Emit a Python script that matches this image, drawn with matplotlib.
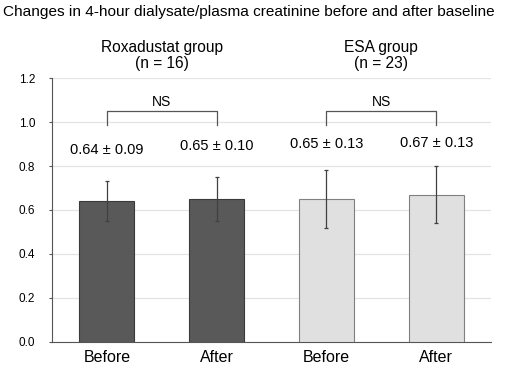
import matplotlib.pyplot as plt

plt.rcParams['font.family'] = ['Liberation Sans', 'DejaVu Sans']

labels = ['Before', 'After', 'Before', 'After']
means = [0.64, 0.65, 0.65, 0.67]
sds = [0.09, 0.10, 0.13, 0.13]
colors = ['#595959', '#595959', '#e0e0e0', '#e0e0e0']
edges = ['#3a3a3a', '#3a3a3a', '#808080', '#808080']
groups = ['Roxadustat group\n(n = 16)', 'ESA group\n(n = 23)']
yticks = [0.0, 0.2, 0.4, 0.6, 0.8, 1.0, 1.2]

fig = plt.figure(figsize=(5.1, 3.7), dpi=100)
ax = fig.add_axes([0.102, 0.076, 0.861, 0.713])

x = list(range(len(labels)))
ax.bar(x, means, width=0.5, color=colors, edgecolor=edges, linewidth=0.8, zorder=3)
ax.errorbar(x, means, yerr=sds, fmt='none', ecolor='#404040', elinewidth=0.9,
            capsize=1.5, capthick=0.9, zorder=4)

# mean +- SD labels
text_y = [0.873, 0.893, 0.9, 0.905]
for i in x:
    ax.text(i, text_y[i], '%.2f ± %.2f' % (means[i], sds[i]), ha='center', va='center',
            fontsize=10.5)

# NS brackets and group labels
for g in range(2):
    a, b = 2 * g, 2 * g + 1
    ax.plot([a, a, b, b], [0.985, 1.05, 1.05, 0.985], color='#555555', lw=0.9,
            clip_on=False, zorder=3)
    ax.text((a + b) / 2, 1.09, 'NS', ha='center', va='center', fontsize=10)
    ax.text((a + b) / 2, 1.302, groups[g], ha='center', va='center', fontsize=11.2,
            linespacing=1.1, clip_on=False)

ax.set_xlim(-0.5, 3.5)
ax.set_ylim(0, 1.2)
ax.set_yticks(yticks)
ax.set_yticklabels(['%.1f' % t for t in yticks], fontsize=8.5)
ax.set_xticks(x)
ax.set_xticklabels(labels, fontsize=11.5)
ax.tick_params(axis='x', length=0, pad=6)
ax.tick_params(axis='y', length=2, color='#555555', pad=10)
ax.grid(axis='y', color='#e4e4e4', lw=0.9, zorder=0)
for s in ['top', 'right']:
    ax.spines[s].set_visible(False)
ax.spines['left'].set_color('#555555')
ax.spines['bottom'].set_color('#555555')

fig.text(0.006, 0.967, 'Changes in 4-hour dialysate/plasma creatinine before and after baseline',
         ha='left', va='center', fontsize=11.1)

fig.savefig('out.png', dpi=100)
